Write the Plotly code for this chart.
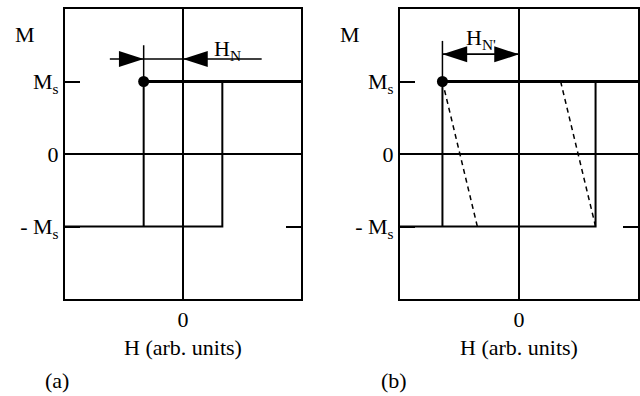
import plotly.graph_objects as go

W, H = 640, 396
FONT = "Liberation Serif"

# ---- data (H in arb. units, M in units of Ms) ----
# panel (a): ideal square loop, nucleation field H_N = 1
a_top_H = [-1, 3]
a_top_M = [1, 1]
a_loop_H = [-1, -1, None, -3, 1, 1]
a_loop_M = [1, -1, None, -1, -1, 1]
a_dot_H = [-1]
a_dot_M = [1]
a_marker_H = [-1, -1]
a_marker_M = [1, 1.5]
a_arrow_M = 1.31
a_arrowL_H = [-1.86, -1]
a_arrowR_H = [2.0, 0]
a_span_H = [-1, 0]

# panel (b): loop with nucleation at H_N' = 1.93, sheared branches dashed
b_top_H = [-1.93, 3]
b_top_M = [1, 1]
b_loop_H = [-1.93, -1.93, None, -3, 1.93, 1.93]
b_loop_M = [1, -1, None, -1, -1, 1]
b_dash_H = [-1.93, -1.05, None, 1.05, 1.93]
b_dash_M = [1, -1, None, 1, -1]
b_dot_H = [-1.93]
b_dot_M = [1]
b_marker_H = [-1.93, -1.93]
b_marker_M = [1, 1.56]
b_arrow_M = 1.375
b_arrow_H = [-1.93, 0]

y_tickvals = [-1, 0, 1]
y_ticktext = ["- M<sub>s</sub>", "0", "M<sub>s</sub>"]
x_tickvals = [0]
x_ticktext = ["0"]

fig = go.Figure()

def px(x):
    return x / W

def py(y):
    return 1 - y / H

line = dict(color="black", width=2)

def add_panel(xa, ya, top_H, top_M, loop_H, loop_M, dot_H, dot_M, mk_H, mk_M):
    fig.add_trace(go.Scatter(x=top_H, y=top_M, mode="lines", line=dict(color="black", width=3),
                             xaxis=xa, yaxis=ya, showlegend=False, hoverinfo="skip"))
    fig.add_trace(go.Scatter(x=loop_H, y=loop_M, mode="lines", line=line,
                             xaxis=xa, yaxis=ya, showlegend=False, hoverinfo="skip"))
    fig.add_trace(go.Scatter(x=mk_H, y=mk_M, mode="lines", line=dict(color="black", width=1.5),
                             xaxis=xa, yaxis=ya, showlegend=False, hoverinfo="skip"))
    fig.add_trace(go.Scatter(x=dot_H, y=dot_M, mode="markers",
                             marker=dict(color="black", size=11, symbol="circle"),
                             xaxis=xa, yaxis=ya, showlegend=False, hoverinfo="skip"))

add_panel("x", "y", a_top_H, a_top_M, a_loop_H, a_loop_M, a_dot_H, a_dot_M, a_marker_H, a_marker_M)
add_panel("x2", "y2", b_top_H, b_top_M, b_loop_H, b_loop_M, b_dot_H, b_dot_M, b_marker_H, b_marker_M)

fig.add_trace(go.Scatter(x=b_dash_H, y=b_dash_M, mode="lines",
                         line=dict(color="black", width=1.5, dash="5px,4px"),
                         xaxis="x2", yaxis="y2", showlegend=False, hoverinfo="skip"))

def arrow(xa, ya, Hs, Mval, angle):
    fig.add_trace(go.Scatter(x=Hs, y=[Mval] * len(Hs), mode="lines",
                             line=dict(color="black", width=1.5),
                             xaxis=xa, yaxis=ya, showlegend=False, hoverinfo="skip"))
    fig.add_trace(go.Scatter(x=[Hs[-1]], y=[Mval], mode="markers",
                             marker=dict(color="black", size=26, symbol="arrow", angle=angle,
                                         line=dict(width=0)),
                             xaxis=xa, yaxis=ya, showlegend=False, hoverinfo="skip"))

arrow("x", "y", a_arrowL_H, a_arrow_M, 90)
arrow("x", "y", a_arrowR_H, a_arrow_M, -90)
fig.add_trace(go.Scatter(x=a_span_H, y=[a_arrow_M] * 2, mode="lines",
                         line=dict(color="black", width=1.5),
                         xaxis="x", yaxis="y", showlegend=False, hoverinfo="skip"))
arrow("x2", "y2", b_arrow_H, b_arrow_M, 90)
arrow("x2", "y2", b_arrow_H[::-1], b_arrow_M, -90)

FS = 22
ax_common = dict(showline=True, linecolor="black", linewidth=2, mirror=True,
                 showgrid=False, zeroline=True, zerolinecolor="black", zerolinewidth=2)
xfont = dict(family=FONT, size=FS, color="black")

xa_common = dict(ax_common, range=[-3, 3], tickvals=x_tickvals, ticktext=x_ticktext,
                 ticks="", tickfont=xfont,
                 title=dict(text="H (arb. units)", font=xfont, standoff=8))
ya_common = dict(ax_common, range=[-2, 2], tickvals=y_tickvals, ticktext=y_ticktext,
                 ticks="inside", ticklen=15, tickwidth=2, tickcolor="black",
                 tickfont=xfont)
ya_common["mirror"] = "ticks"

fig.update_layout(
    width=W, height=H, margin=dict(l=0, r=0, t=0, b=0),
    paper_bgcolor="white", plot_bgcolor="white",
    font=dict(family=FONT, color="black"),
    xaxis=dict(xa_common, domain=[px(65), px(301)], anchor="y"),
    yaxis=dict(ya_common, domain=[py(299), py(9)], anchor="x"),
    xaxis2=dict(xa_common, domain=[px(400), px(638)], anchor="y2"),
    yaxis2=dict(ya_common, domain=[py(299), py(9)], anchor="x2"),
)

ann_font = dict(family=FONT, size=FS, color="black")
def label(text, x, y, xref="paper", yref="paper"):
    fig.add_annotation(text=text, x=x, y=y, xref=xref, yref=yref, showarrow=False,
                       xanchor="center", yanchor="middle", font=ann_font)

label("M", px(25), py(35))
label("M", px(350), py(35))
label("H<sub>N</sub>", 1.14, 1.44, "x", "y")
label("H<sub>N'</sub>", -0.97, 1.58, "x2", "y2")
label("(a)", px(57), py(380))
label("(b)", px(394), py(380))

fig.write_html("out.html", config={"displayModeBar": False},
               post_script="document.body.style.margin='0';document.body.style.padding='0';")
